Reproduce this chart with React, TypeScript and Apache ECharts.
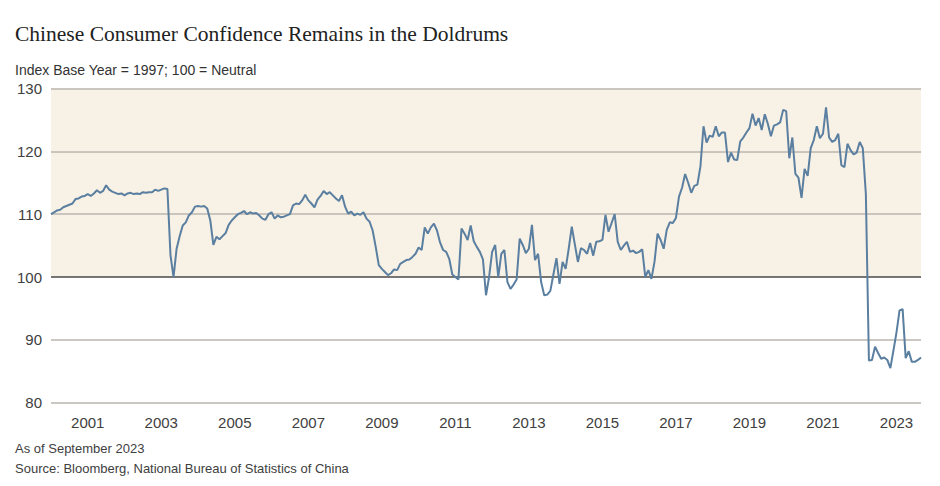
import React, { useEffect, useRef } from "react";
import * as echarts from "echarts";

// Monthly index values, Jan–Dec of each year (2023: Jan–Sep)
const v2000 = [110.0, 110.3, 110.6, 110.7, 111.1, 111.3, 111.5, 111.7, 112.4, 112.5, 112.8, 112.9];
const v2001 = [113.2, 112.9, 113.3, 113.8, 113.4, 113.7, 114.6, 113.9, 113.6, 113.4, 113.2, 113.3];
const v2002 = [113.0, 113.3, 113.4, 113.2, 113.3, 113.2, 113.5, 113.4, 113.5, 113.5, 113.9, 113.7];
const v2003 = [113.9, 114.1, 114.0, 103.5, 100.0, 104.5, 106.5, 108.2, 108.7, 109.8, 110.3, 111.2];
const v2004 = [111.3, 111.2, 111.3, 110.9, 109.0, 105.1, 106.4, 106.0, 106.5, 107.0, 108.3, 109.0];
const v2005 = [109.5, 110.0, 110.2, 110.5, 110.0, 110.3, 110.1, 110.2, 109.8, 109.3, 109.1, 110.0];
const v2006 = [110.3, 109.3, 109.8, 109.5, 109.6, 109.8, 110.0, 111.4, 111.7, 111.6, 112.2, 113.1];
const v2007 = [112.2, 111.7, 111.1, 112.3, 112.9, 113.7, 113.2, 113.5, 113.0, 112.5, 112.1, 113.0];
const v2008 = [111.2, 110.1, 110.4, 109.8, 110.1, 109.9, 110.3, 109.3, 108.8, 107.4, 104.8, 101.9];
const v2009 = [101.3, 100.8, 100.3, 100.6, 101.2, 101.1, 102.1, 102.4, 102.7, 102.8, 103.2, 103.7];
const v2010 = [104.7, 104.3, 107.9, 106.9, 107.9, 108.5, 107.4, 105.5, 104.3, 104.0, 102.9, 100.4];
const v2011 = [100.0, 99.6, 107.7, 106.9, 105.9, 108.2, 105.7, 104.8, 104.0, 102.8, 97.1, 100.0];
const v2012 = [104.0, 105.1, 100.0, 103.7, 104.3, 99.2, 98.1, 98.8, 99.6, 106.1, 105.1, 103.8];
const v2013 = [104.5, 108.3, 102.7, 103.7, 99.2, 97.1, 97.2, 97.8, 100.4, 103.0, 98.9, 102.4];
const v2014 = [101.3, 104.5, 108.0, 105.2, 102.4, 104.6, 104.3, 103.7, 105.4, 103.4, 105.6, 105.7];
const v2015 = [105.9, 109.9, 107.2, 108.6, 110.0, 105.6, 104.3, 105.0, 105.6, 104.0, 104.2, 103.8];
const v2016 = [104.0, 104.4, 100.0, 101.1, 99.7, 102.4, 106.9, 105.9, 104.5, 107.5, 108.7, 108.6];
const v2017 = [109.4, 112.8, 114.2, 116.4, 115.0, 113.4, 114.5, 114.7, 117.6, 124.0, 121.4, 122.5];
const v2018 = [122.3, 124.0, 122.4, 123.0, 123.0, 118.3, 119.8, 118.7, 118.6, 121.6, 122.2, 123.0];
const v2019 = [123.7, 126.0, 124.1, 125.3, 123.4, 125.9, 124.4, 122.4, 124.1, 124.3, 124.6, 126.6];
const v2020 = [126.4, 118.9, 122.2, 116.4, 115.8, 112.6, 117.2, 116.1, 120.5, 121.8, 124.0, 122.1];
const v2021 = [122.8, 127.0, 122.2, 121.5, 121.8, 122.8, 117.8, 117.5, 121.2, 120.2, 119.5, 119.8];
const v2022 = [121.5, 120.5, 113.2, 86.7, 86.8, 88.9, 87.9, 87.0, 87.2, 86.8, 85.5, 88.3];
const v2023 = [91.2, 94.7, 94.9, 87.1, 88.2, 86.5, 86.5, 86.8, 87.2];

const yearly = [
  v2000, v2001, v2002, v2003, v2004, v2005, v2006, v2007, v2008, v2009, v2010, v2011,
  v2012, v2013, v2014, v2015, v2016, v2017, v2018, v2019, v2020, v2021, v2022, v2023,
];
const startYear = 2000;

const labelYears = ["2001", "2003", "2005", "2007", "2009", "2011", "2013", "2015", "2017", "2019", "2021", "2023"];
const yTicks = [80, 90, 100, 110, 120, 130];

const TITLE = "Chinese Consumer Confidence Remains in the Doldrums";
const SUBTITLE = "Index Base Year = 1997; 100 = Neutral";
const NOTE = "As of September 2023";
const SOURCE = "Source: Bloomberg, National Bureau of Statistics of China";
const BAND_LABEL = "Optimistic";

const months: string[] = [];
const values: number[] = [];
yearly.forEach((arr, k) => {
  arr.forEach((v, m) => {
    months.push(`${startYear + k}-${String(m + 1).padStart(2, "0")}`);
    values.push(v);
  });
});

const SANS = "Liberation Sans, Arial, sans-serif";
const GRID_GRAY = "#BAB6AF";
const BEIGE = "#F8F1E5";

export default function App() {
  const ref = useRef<HTMLDivElement>(null);
  useEffect(() => {
    if (!ref.current) return;
    const chart = echarts.init(ref.current, undefined, { renderer: "svg" });
    chart.setOption({
      animation: false,
      backgroundColor: "#ffffff",
      title: [
        {
          text: TITLE,
          left: 10,
          top: 18,
          textStyle: { fontFamily: "Liberation Serif, serif", fontSize: 21.5, fontWeight: "normal", color: "#222222" },
        },
        {
          text: SUBTITLE,
          left: 10,
          top: 58,
          textStyle: { fontFamily: SANS, fontSize: 14, fontWeight: "normal", color: "#333333" },
        },
        {
          text: NOTE,
          left: 10,
          top: 437,
          textStyle: { fontFamily: SANS, fontSize: 13, fontWeight: "normal", color: "#404040" },
        },
        {
          text: SOURCE,
          left: 10,
          top: 457,
          textStyle: { fontFamily: SANS, fontSize: 13, fontWeight: "normal", color: "#404040" },
        },
      ],
      grid: { left: 51, right: 19, top: 88.5, bottom: 83.3, containLabel: false },
      xAxis: {
        type: "category",
        data: months,
        boundaryGap: false,
        axisLine: { show: false },
        axisTick: { show: false },
        splitLine: { show: false },
        axisLabel: {
          interval: (_i: number, v: string) => v.endsWith("-01") && labelYears.includes(v.slice(0, 4)),
          formatter: (v: string) => v.slice(0, 4),
          color: "#404040",
          fontFamily: SANS,
          fontSize: 15,
          margin: 12,
        },
      },
      yAxis: {
        type: "value",
        min: yTicks[0],
        max: yTicks[yTicks.length - 1],
        interval: 10,
        axisLine: { show: false },
        axisTick: { show: false },
        axisLabel: { color: "#404040", fontFamily: SANS, fontSize: 15, margin: 9 },
        splitArea: {
          show: true,
          areaStyle: { color: ["rgba(255,255,255,0)", "rgba(255,255,255,0)", BEIGE, BEIGE, BEIGE] },
        },
        splitLine: {
          show: true,
          lineStyle: { color: [GRID_GRAY, GRID_GRAY, "#4A4A4A", GRID_GRAY, GRID_GRAY, GRID_GRAY], width: 1.6 },
        },
      },
      graphic: [
        {
          type: "text",
          left: 353,
          top: 114,
          style: { text: BAND_LABEL, fill: "#D6A954", font: `15px ${SANS}` },
        },
      ],
      series: [
        {
          type: "line",
          data: values,
          showSymbol: false,
          symbol: "none",
          lineStyle: { color: "#5A7FA0", width: 2 },
          z: 3,
        },
      ],
    });
    return () => chart.dispose();
  }, []);
  return <div ref={ref} style={{ width: 940, height: 486, position: "absolute", left: 0, top: 0 }} />;
}
